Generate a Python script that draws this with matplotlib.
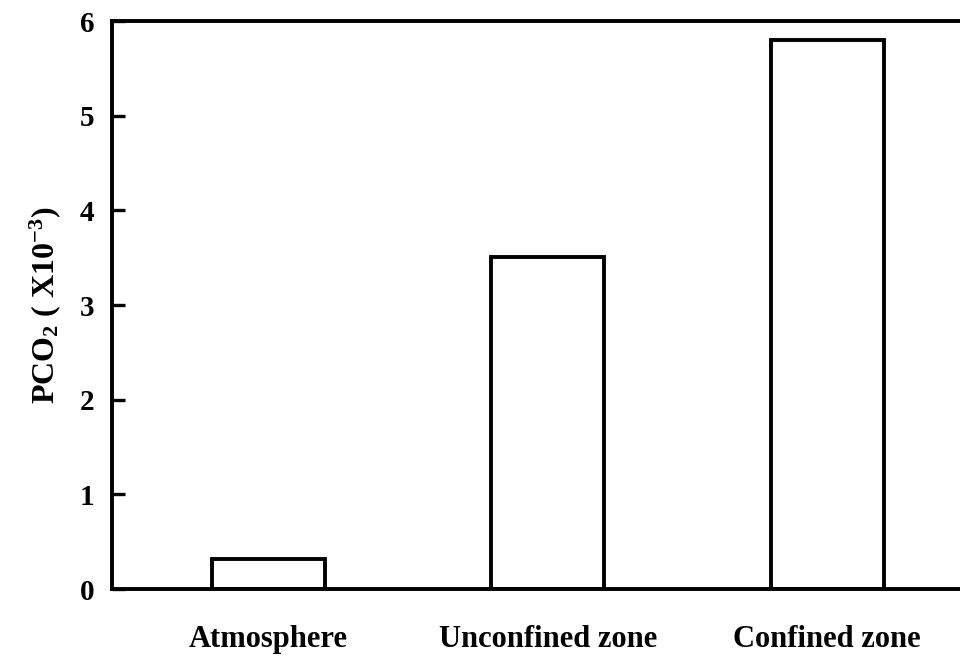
import matplotlib
matplotlib.use("Agg")
import matplotlib.pyplot as plt

# data
categories = ["Atmosphere", "Unconfined zone", "Confined zone"]
pco2 = [0.32, 3.51, 5.80]
yticks = [0, 1, 2, 3, 4, 5, 6]

plt.rcParams['font.family'] = ['Liberation Serif', 'DejaVu Serif']
plt.rcParams['font.weight'] = 'bold'
plt.rcParams['mathtext.fontset'] = 'custom'
plt.rcParams['mathtext.rm'] = 'Liberation Serif:bold'
plt.rcParams['mathtext.default'] = 'rm'

fig = plt.figure(figsize=(9.6, 6.59), dpi=100)
ax = fig.add_axes([0.117, 0.106, 0.89, 0.862])

x = list(range(len(categories)))
ax.bar(x, pco2, width=0.405, color='white', edgecolor='black', linewidth=2.8)

ax.set_xlim(-0.56, 2.5)
ax.set_ylim(0, 6)
ax.set_yticks(yticks)
ax.set_yticklabels([str(t) for t in yticks], fontsize=21, fontweight='bold')
ax.set_xticks(x)
ax.set_xticklabels(categories, fontsize=22, fontweight='bold')

ax.tick_params(axis='y', direction='in', length=9, width=2.4, pad=13)
ax.tick_params(axis='x', length=0, pad=26)

for s in ['left', 'bottom', 'top']:
    ax.spines[s].set_linewidth(2.8)
ax.spines['right'].set_visible(False)

ax.set_ylabel(r'PCO$_2$ ( X10$^{-3}$)', fontsize=23, fontweight='bold', labelpad=12)

fig.savefig("out.png", dpi=100)
